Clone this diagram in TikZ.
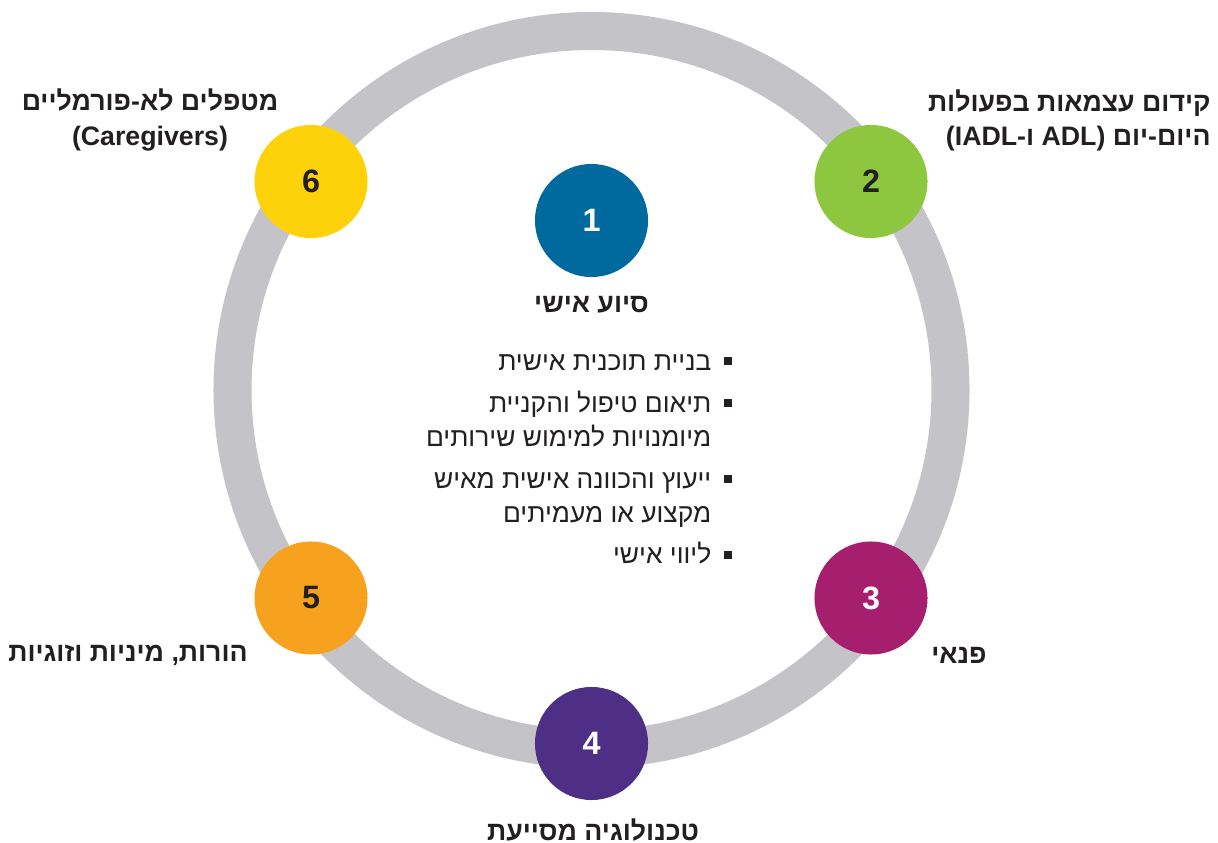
\documentclass[tikz,border=0pt]{standalone}
\usepackage{fontspec}
\setmainfont{Liberation Sans}
\newfontfamily\hebfont[Script=Hebrew]{Liberation Sans}
\TeXXeTstate=1
\definecolor{ringgray}{HTML}{C4C3C8}
\definecolor{inkdark}{HTML}{231F20}
\definecolor{cblue}{HTML}{006A9E}
\definecolor{cgreen}{HTML}{8DC63F}
\definecolor{cmagenta}{HTML}{A61F6E}
\definecolor{cpurple}{HTML}{4F2F85}
\definecolor{corange}{HTML}{F6A21E}
\definecolor{cyellow}{HTML}{FDD20A}

\begin{document}
\begin{tikzpicture}[x=0.01cm,y=0.01cm,
    num/.style = {shape=circle, minimum size=1.13cm, inner sep=0pt, font=\fontsize{9.2}{11}\selectfont\bfseries},
    title/.style = {align=center, text=inkdark, font=\hebfont\fontsize{7.6}{9.7}\selectfont\bfseries},
    bullet/.style = {text=inkdark, font=\hebfont\fontsize{7.5}{9.64}\selectfont}]
    \useasboundingbox (0,0) rectangle (1218,842);
    % ring
    \draw[ringgray, line width=0.38cm] (591.5,452) circle (359);

    \node (personal) [num, fill=cblue, text=white] at (591.5,621.5) {1};
    \node (adl) [num, fill=cgreen, text=inkdark] at (871,660.5) {2};
    \node (leisure) [num, fill=cmagenta, text=white] at (871,244) {3};
    \node (tech) [num, fill=cpurple, text=white] at (591.5,98.5) {4};
    \node (sexuality) [num, fill=corange, text=inkdark] at (311,244) {5};
    \node (caregivers) [num, fill=cyellow, text=inkdark] at (311,660.5) {6};

    \node (personaltitle) [title] at (591.5,537) {\beginR סיוע אישי\endR};
    \node (adltitle) [title, align=right, anchor=east] at (1223,722)
        {\beginR קידום עצמאות בפעולות\endR\\\beginR היום-יום \beginL(IADL-ו ADL)\endL\endR};
    \node (leisuretitle) [title] at (959,187) {\beginR פנאי\endR};
    \node (techtitle) [title] at (593,12) {\beginR טכנולוגיה מסייעת\endR};
    \node (sexualitytitle) [title] at (128,187) {\beginR הורות, מיניות וזוגיות\endR};
    \node (caregiverstitle) [title] at (150,722) {\beginR מטפלים לא-פורמליים\endR\\(Caregivers)};

    \node (services) [bullet, anchor=north east, inner sep=0pt] at (733,496) {%
        \begin{tabular}{@{}r@{\hspace{0.13cm}}c@{}}
        \beginR בניית תוכנית אישית\endR & \rule[0.05cm]{0.08cm}{0.08cm}\\[0.08cm]
        \beginR תיאום טיפול והקניית\endR & \rule[0.05cm]{0.08cm}{0.08cm}\\
        \beginR מיומנויות למימוש שירותים\endR & \\[0.08cm]
        \beginR ייעוץ והכוונה אישית מאיש\endR & \rule[0.05cm]{0.08cm}{0.08cm}\\
        \beginR מקצוע או מעמיתים\endR & \\[0.08cm]
        \beginR ליווי אישי\endR & \rule[0.05cm]{0.08cm}{0.08cm}
        \end{tabular}};
\end{tikzpicture}
\end{document}
